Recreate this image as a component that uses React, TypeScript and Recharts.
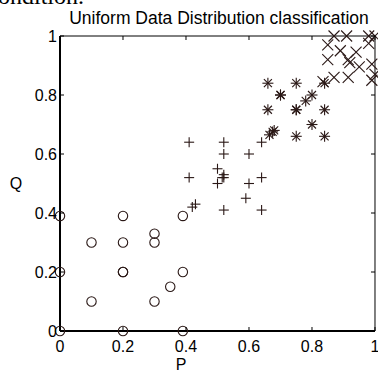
import React from 'react';
import { ScatterChart, Scatter, XAxis, YAxis } from 'recharts';

const tickValues = [0, 0.2, 0.4, 0.6, 0.8, 1];
const tickLabels = ['0', '0.2', '0.4', '0.6', '0.8', '1'];

const circleP = [0, 0.2, 0.39, 0.3, 0.1, 0.2, 0.3, 0, 0.2, 0.2, 0.39, 0.35, 0.1, 0.3, 0, 0.2, 0.39];
const circleQ = [0.39, 0.39, 0.39, 0.33, 0.3, 0.3, 0.3, 0.2, 0.2, 0.2, 0.2, 0.15, 0.1, 0.1, 0, 0, 0];

const plusP = [0.41, 0.52, 0.52, 0.6, 0.64, 0.41, 0.5, 0.52, 0.515, 0.52, 0.5, 0.6, 0.64, 0.59, 0.52, 0.64, 0.43, 0.42];
const plusQ = [0.64, 0.64, 0.6, 0.6, 0.64, 0.52, 0.55, 0.52, 0.52, 0.53, 0.5, 0.5, 0.52, 0.45, 0.41, 0.41, 0.43, 0.42];

const starP = [0.66, 0.75, 0.84, 0.7, 0.7, 0.8, 0.78, 0.66, 0.75, 0.75, 0.84, 0.68, 0.665, 0.75, 0.8, 0.84, 0.675];
const starQ = [0.84, 0.84, 0.84, 0.8, 0.8, 0.8, 0.78, 0.75, 0.75, 0.75, 0.75, 0.68, 0.665, 0.66, 0.7, 0.66, 0.675];

const crossP = [0.87, 0.91, 0.98, 1, 0.85, 0.89, 0.94, 0.98, 0.85, 0.915, 0.92, 0.95, 0.99, 1, 0.915, 0.87, 0.835, 0.99];
const crossQ = [1, 1, 1, 1, 0.97, 0.95, 0.945, 0.975, 0.92, 0.92, 0.91, 0.895, 0.905, 0.87, 0.86, 0.86, 0.845, 0.85];

const build = (ps: number[], qs: number[]) => ps.map((p, i) => ({ p, q: qs[i] }));

const circleData = build(circleP, circleQ);
const plusData = build(plusP, plusQ);
const starData = build(starP, starQ);
const crossData = build(crossP, crossQ);

const MK = '#2a1816';
const FONT = 'Liberation Sans, Arial, sans-serif';
const labelFor = (v: number) => tickLabels[tickValues.indexOf(v)] ?? String(v);

const CircleShape = (props: any) => (
  <circle cx={props.cx} cy={props.cy} r={4.7} fill="none" stroke={MK} strokeWidth={1.1} />
);
const PlusShape = (props: any) => {
  const { cx, cy } = props;
  const s = 5;
  return (
    <g stroke={MK} strokeWidth={1.1}>
      <line x1={cx - s} y1={cy} x2={cx + s} y2={cy} />
      <line x1={cx} y1={cy - s} x2={cx} y2={cy + s} />
    </g>
  );
};
const StarShape = (props: any) => {
  const { cx, cy } = props;
  const s = 5.5;
  const d = 4;
  return (
    <g stroke={MK} strokeWidth={1.1}>
      <line x1={cx - s} y1={cy} x2={cx + s} y2={cy} />
      <line x1={cx} y1={cy - s} x2={cx} y2={cy + s} />
      <line x1={cx - d} y1={cy - d} x2={cx + d} y2={cy + d} />
      <line x1={cx - d} y1={cy + d} x2={cx + d} y2={cy - d} />
    </g>
  );
};
const CrossShape = (props: any) => {
  const { cx, cy } = props;
  const s = 5.5;
  return (
    <g stroke={MK} strokeWidth={1.1}>
      <line x1={cx - s} y1={cy - s} x2={cx + s} y2={cy + s} />
      <line x1={cx - s} y1={cy + s} x2={cx + s} y2={cy - s} />
    </g>
  );
};
const NoShape = () => <g />;

const BottomTick = (props: any) => {
  const { x, y, payload } = props;
  return (
    <g>
      <line x1={x} y1={y} x2={x} y2={y - 4} stroke="#000" strokeWidth={1} />
      <text x={x} y={y + 21} textAnchor="middle" fontFamily={FONT} fontSize={16} fill="#000">
        {labelFor(payload.value)}
      </text>
    </g>
  );
};
const TopTick = (props: any) => {
  const { x, y } = props;
  return <line x1={x} y1={y} x2={x} y2={y + 4} stroke="#000" strokeWidth={1} />;
};
const LeftTick = (props: any) => {
  const { x, y, payload } = props;
  return (
    <g>
      <line x1={x} y1={y} x2={x + 4} y2={y} stroke="#000" strokeWidth={1} />
      <text x={x - 3} y={y + 5.5} textAnchor="end" fontFamily={FONT} fontSize={16} fill="#000">
        {labelFor(payload.value)}
      </text>
    </g>
  );
};
const RightTick = (props: any) => {
  const { x, y } = props;
  return <line x1={x} y1={y} x2={x - 4} y2={y} stroke="#000" strokeWidth={1} />;
};

export default function App() {
  return (
    <div style={{ position: 'absolute', left: 0, top: 0, width: 378, height: 372, background: '#fff', overflow: 'hidden' }}>
      <ScatterChart width={378} height={372} margin={{ top: 36, right: 3, bottom: 0, left: 0 }}>
        <XAxis
          xAxisId="b"
          dataKey="p"
          type="number"
          domain={[0, 1]}
          ticks={tickValues}
          interval={0}
          orientation="bottom"
          height={41}
          axisLine={{ stroke: '#000', strokeWidth: 2 }}
          tickLine={false}
          tickSize={0}
          tickMargin={0}
          tick={<BottomTick />}
        />
        <XAxis
          xAxisId="t"
          dataKey="p"
          type="number"
          domain={[0, 1]}
          ticks={tickValues}
          interval={0}
          orientation="top"
          height={0.01}
          axisLine={{ stroke: '#000', strokeWidth: 1 }}
          tickLine={false}
          tickSize={0}
          tickMargin={0}
          tick={<TopTick />}
        />
        <YAxis
          yAxisId="l"
          dataKey="q"
          type="number"
          domain={[0, 1]}
          ticks={tickValues}
          interval={0}
          orientation="left"
          width={60}
          axisLine={{ stroke: '#000', strokeWidth: 2 }}
          tickLine={false}
          tickSize={0}
          tickMargin={0}
          tick={<LeftTick />}
        />
        <YAxis
          yAxisId="r"
          dataKey="q"
          type="number"
          domain={[0, 1]}
          ticks={tickValues}
          interval={0}
          orientation="right"
          width={0.01}
          axisLine={{ stroke: '#000', strokeWidth: 1 }}
          tickLine={false}
          tickSize={0}
          tickMargin={0}
          tick={<RightTick />}
        />
        <Scatter xAxisId="t" yAxisId="r" data={crossData} shape={<NoShape />} isAnimationActive={false} />
        <Scatter xAxisId="b" yAxisId="l" data={circleData} shape={<CircleShape />} isAnimationActive={false} />
        <Scatter xAxisId="b" yAxisId="l" data={plusData} shape={<PlusShape />} isAnimationActive={false} />
        <Scatter xAxisId="b" yAxisId="l" data={starData} shape={<StarShape />} isAnimationActive={false} />
        <Scatter xAxisId="b" yAxisId="l" data={crossData} shape={<CrossShape />} isAnimationActive={false} />
      </ScatterChart>
      <svg width={378} height={372} style={{ position: 'absolute', left: 0, top: 0, pointerEvents: 'none' }}>
        <text x={-2} y={4} fontFamily="Liberation Serif, Times New Roman, serif" fontSize={24} fill="#000">ondition.</text>
        <text x={219} y={24} textAnchor="middle" fontFamily={FONT} fontSize={17.5} fill="#000">
          Uniform Data Distribution classification
        </text>
        <text x={16} y={189} textAnchor="middle" fontFamily={FONT} fontSize={16} fill="#000">Q</text>
        <text x={181} y={370} textAnchor="middle" fontFamily={FONT} fontSize={16} fill="#000">P</text>
      </svg>
    </div>
  );
}
